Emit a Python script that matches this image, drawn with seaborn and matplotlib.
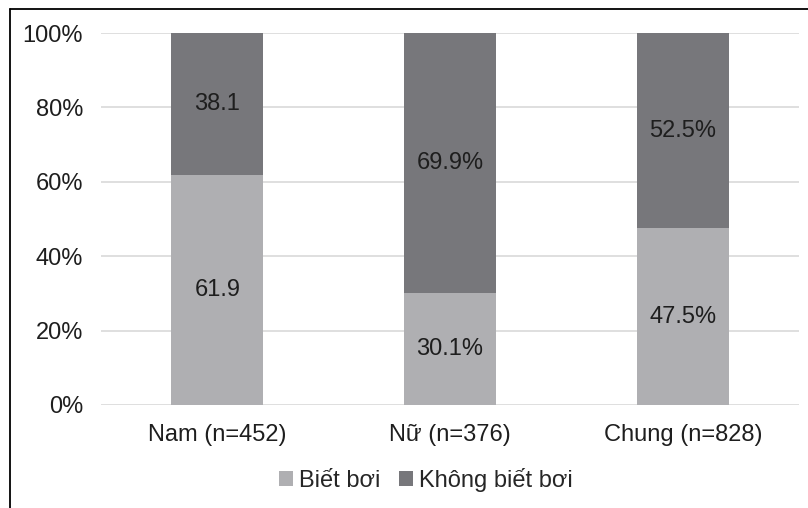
import matplotlib
matplotlib.use("Agg")
import matplotlib.pyplot as plt
from matplotlib.lines import Line2D
from matplotlib.patches import Patch
import seaborn as sns

# Data
groups = ["Nam (n=452)", "Nữ (n=376)", "Chung (n=828)"]
biet_boi = [61.9, 30.1, 47.5]
khong_biet_boi = [38.1, 69.9, 52.5]
biet_labels = ["61.9", "30.1%", "47.5%"]
khong_labels = ["38.1", "69.9%", "52.5%"]
series_names = ["Biết bơi", "Không biết bơi"]
y_ticks = [0, 20, 40, 60, 80, 100]

LIGHT = "#afafb2"
DARK = "#77777b"
TEXT = "#1e1e1e"
FS = 17

sns.set_style("white")
plt.rcParams["font.family"] = ["Liberation Sans", "DejaVu Sans"]

fig = plt.figure(figsize=(8.08, 5.08), dpi=100)
ax = fig.add_axes([0.125, 0.203, 0.864, 0.732])

totals = [b + k for b, k in zip(biet_boi, khong_biet_boi)]

# Stacked bars: full height in dark, bottom part in light on top
sns.barplot(x=groups, y=totals, color=DARK, width=0.395, saturation=1,
            linewidth=0, ax=ax, zorder=2)
sns.barplot(x=groups, y=biet_boi, color=LIGHT, width=0.395, saturation=1,
            linewidth=0, ax=ax, zorder=3)

# Value labels centered in segments
for i, (b, k) in enumerate(zip(biet_boi, khong_biet_boi)):
    ax.text(i, b / 2, biet_labels[i], ha="center", va="center", fontsize=FS, color=TEXT, zorder=4)
    ax.text(i, b + k / 2, khong_labels[i], ha="center", va="center", fontsize=FS, color=TEXT, zorder=4)

ax.set_ylim(0, 100)
ax.set_xlim(-0.5, 2.5)
ax.set_yticks(y_ticks)
ax.set_yticklabels([f"{t}%" for t in y_ticks])
ax.yaxis.grid(True, color="#d9d9d9", linewidth=1.2, zorder=0)
ax.set_axisbelow(True)
for side in ["left", "right", "top", "bottom"]:
    ax.spines[side].set_visible(False)
ax.tick_params(axis="y", length=0, pad=13, labelsize=FS, labelcolor=TEXT)
ax.tick_params(axis="x", length=0, pad=14, labelsize=FS, labelcolor=TEXT)
ax.set_xlabel("")
ax.set_ylabel("")

# Legend
handles = [Patch(facecolor=LIGHT, edgecolor="none"), Patch(facecolor=DARK, edgecolor="none")]
fig.legend(
    handles,
    series_names,
    loc="center",
    bbox_to_anchor=(0.527, 0.055),
    ncol=2,
    frameon=False,
    fontsize=FS,
    handlelength=0.6,
    handleheight=0.6,
    handletextpad=0.25,
    columnspacing=0.8,
)

# Frame lines on top and left of the picture
fig.add_artist(Line2D([9.5 / 808, 9.5 / 808], [0, 1 - 8.5 / 508], transform=fig.transFigure, color="black", linewidth=1.3))
fig.add_artist(Line2D([9.5 / 808, 1], [1 - 8.5 / 508, 1 - 8.5 / 508], transform=fig.transFigure, color="black", linewidth=1.3))

fig.savefig("out.png", dpi=100)
